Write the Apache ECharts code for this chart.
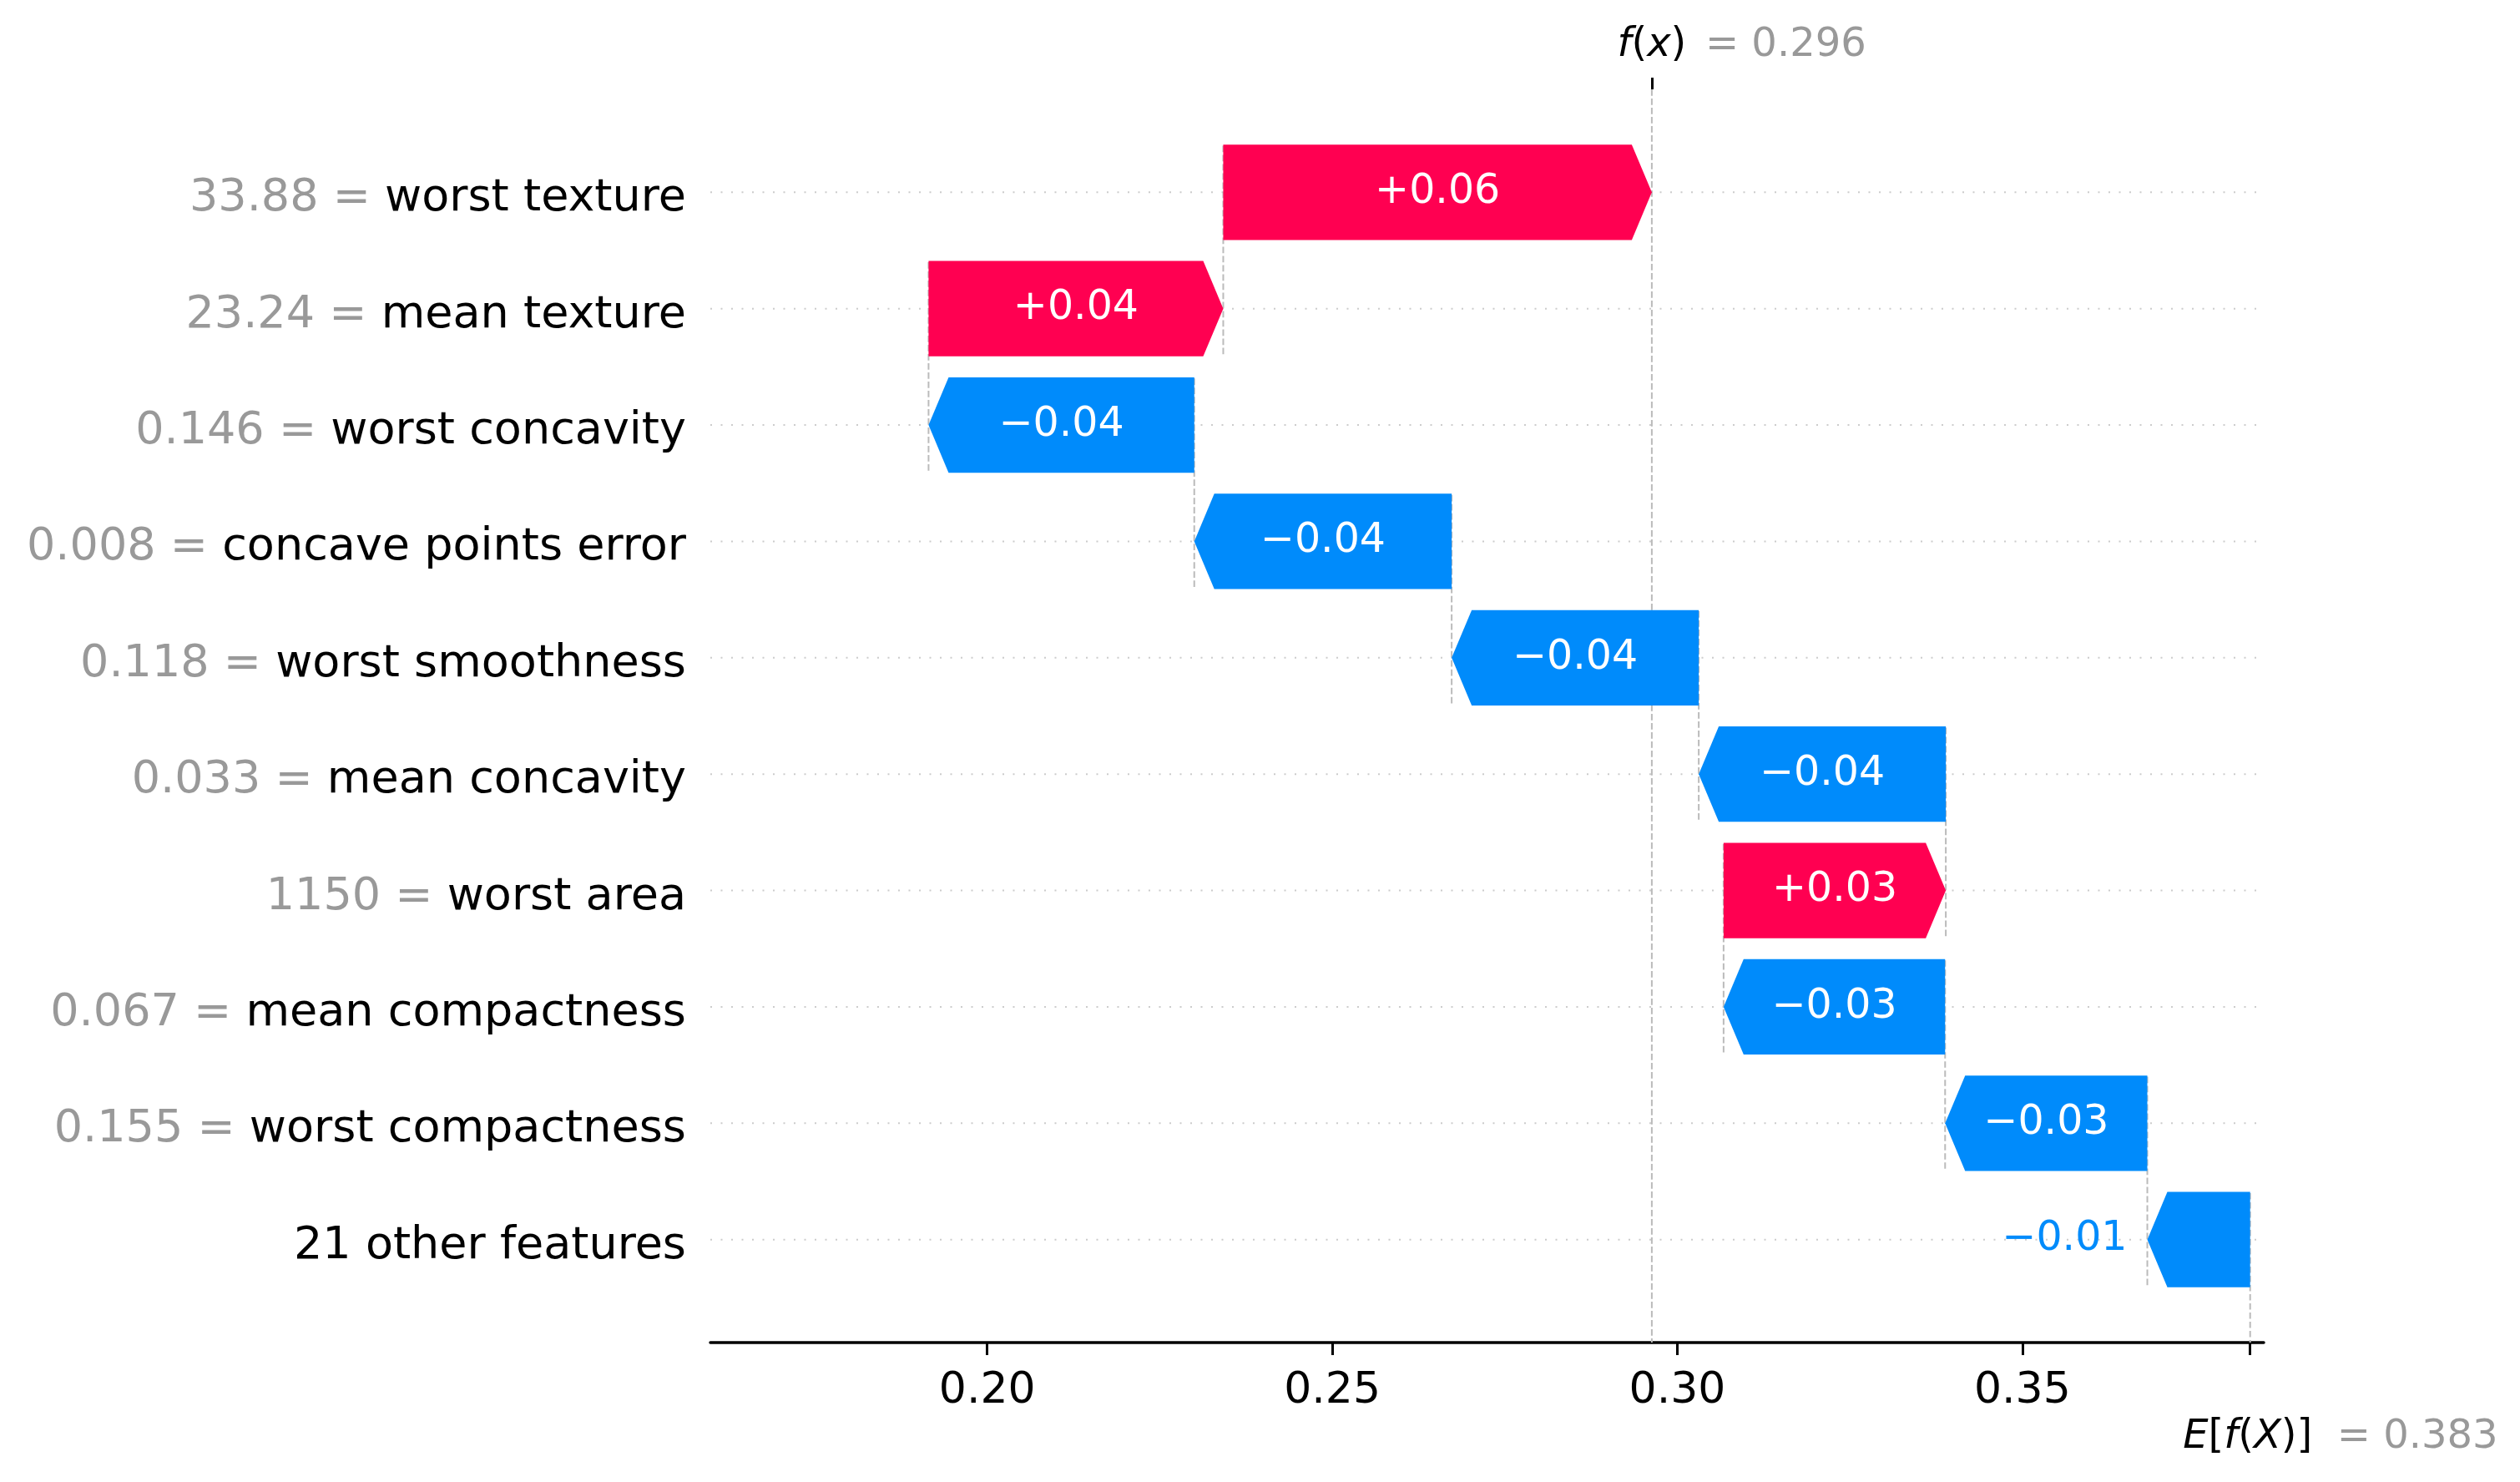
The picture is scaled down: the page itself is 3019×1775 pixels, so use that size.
<!DOCTYPE html>
<html>
<head>
<meta charset="utf-8">
<script src="https://cdn.jsdelivr.net/npm/echarts@6/dist/echarts.min.js"></script>
<style>
html,body{margin:0;padding:0;background:#fff;}
#chart{width:3019px;height:1775px;}
</style>
</head>
<body>
<div id="chart"></div>
<script>
// ---------------- data ----------------
const features = ['worst texture','mean texture','worst concavity','concave points error','worst smoothness','mean concavity','worst area','mean compactness','worst compactness','21 other features'];
const featureValues = ['33.88','23.24','0.146','0.008','0.118','0.033','1150','0.067','0.155',''];
const shapValues = [0.0621, 0.0427, -0.0385, -0.0373, -0.0358, -0.0358, 0.0322, -0.0321, -0.0293, -0.0149];
const shapLabels = ['+0.06','+0.04','\u22120.04','\u22120.04','\u22120.04','\u22120.04','+0.03','\u22120.03','\u22120.03','\u22120.01'];
const baseValue = 0.383;
const baseLabel = '0.383';
const fxLabel = '0.296';
const xTicks = [0.20, 0.25, 0.30, 0.35];

// ---------------- layout / style ----------------
const X_MIN = 0.15988, X_MAX = 0.38497;
const Y_MIN = -0.885, Y_MAX = 9.885;
const RED = '#ff0051', BLUE = '#008bfb';
const FONT = 'DejaVu Sans';
const HEAD_PX = 24;
const HALF_BAR = 0.41;

// cumulative positions (bottom row starts at base value)
const n = features.length;
const starts = new Array(n), ends = new Array(n);
let cur = baseValue;
for (let i = n - 1; i >= 0; i--) {
  starts[i] = cur;
  ends[i] = cur + shapValues[i];
  cur = ends[i];
}
const fx = ends[0];

const barData = features.map((f, i) => [starts[i], ends[i], i]);
const gridData = features.map((f, i) => [X_MIN, i]);
const connData = features.map((f, i) => [starts[i], i]);

const chart = echarts.init(document.getElementById('chart'));

const option = {
  animation: false,
  backgroundColor: '#ffffff',
  textStyle: { fontFamily: FONT },
  grid: { left: 851, right: 307, top: 107, bottom: 167, containLabel: false },
  xAxis: [
    {
      type: 'value', position: 'bottom', min: X_MIN, max: X_MAX,
      axisLine: { show: true, onZero: false, lineStyle: { color: '#000', width: 3.5 } },
      axisTick: { show: true, length: 15, lineStyle: { color: '#000', width: 3 }, customValues: xTicks.concat([baseValue]) },
      axisLabel: { show: true, customValues: xTicks, formatter: v => v.toFixed(2), fontSize: 52, color: '#000', fontFamily: FONT, margin: 32 },
      splitLine: { show: false }
    },
    {
      type: 'value', position: 'top', min: X_MIN, max: X_MAX,
      axisLine: { show: false, onZero: false },
      axisTick: { show: true, length: 14, lineStyle: { color: '#000', width: 3 }, customValues: [fx] },
      axisLabel: { show: false },
      splitLine: { show: false }
    }
  ],
  yAxis: {
    type: 'value', inverse: true, min: Y_MIN, max: Y_MAX,
    axisLine: { show: false, onZero: false }, axisTick: { show: false }, splitLine: { show: false },
    axisLabel: {
      show: true, margin: 29,
      padding: [16, 0, 0, 0],
      customValues: features.map((f, i) => i),
      formatter: function (v) {
        const i = Math.round(v);
        const fv = featureValues[i];
        return (fv ? '{v|' + fv + ' = }' : '') + '{n|' + features[i] + '}';
      },
      rich: {
        v: { color: '#999999', fontSize: 54, fontFamily: FONT },
        n: { color: '#000000', fontSize: 54, fontFamily: FONT }
      }
    }
  },
  series: [
    { // horizontal dotted row guides
      type: 'custom', z: 1, silent: true,
      data: gridData,
      renderItem: function (params, api) {
        const r = api.value(1);
        const a = api.coord([X_MIN, r]), b = api.coord([X_MAX, r]);
        return { type: 'line', shape: { x1: a[0], y1: a[1], x2: b[0], y2: b[1] },
          style: { stroke: '#cccccc', lineWidth: 2, lineDash: [2, 10.5] } };
      }
    },
    { // dashed connectors
      type: 'custom', z: 2, silent: true,
      data: connData,
      renderItem: function (params, api) {
        const x = api.value(0), r = api.value(1);
        const a = api.coord([x, r - 0.4]);
        const b = api.coord([x, Math.min(r + 1.4, Y_MAX)]);
        return { type: 'line', shape: { x1: a[0], y1: a[1], x2: b[0], y2: b[1] },
          style: { stroke: '#bbbbbb', lineWidth: 2, lineDash: [7.7, 3.3] } };
      }
    },
    { // f(x) line
      type: 'custom', z: 2, silent: true,
      data: [[fx, 0]],
      renderItem: function (params, api) {
        const x = api.value(0);
        const a = api.coord([x, Y_MIN]), b = api.coord([x, Y_MAX]);
        return { type: 'line', shape: { x1: a[0], y1: a[1], x2: b[0], y2: b[1] },
          style: { stroke: '#bbbbbb', lineWidth: 2, lineDash: [7.7, 3.3] } };
      }
    },
    { // waterfall arrows
      type: 'custom', z: 5, silent: true,
      data: barData,
      renderItem: function (params, api) {
        const i = params.dataIndex;
        const s = api.value(0), e = api.value(1), r = api.value(2);
        const p0 = api.coord([s, r]), p1 = api.coord([e, r]);
        const top = api.coord([s, r - HALF_BAR])[1], bot = api.coord([s, r + HALF_BAR])[1];
        const cy = p0[1];
        const dir = p1[0] >= p0[0] ? 1 : -1;
        const len = Math.abs(p1[0] - p0[0]);
        const head = Math.min(HEAD_PX, len);
        const color = shapValues[i] >= 0 ? RED : BLUE;
        const pts = [[p0[0], top], [p1[0] - dir * head, top], [p1[0], cy], [p1[0] - dir * head, bot], [p0[0], bot]];
        const label = shapLabels[i];
        const fs = 49;
        const estW = label.length * 0.62 * fs;
        let text;
        if (estW + 20 < len) {
          text = { type: 'text', style: { text: label, x: (p0[0] + p1[0]) / 2, y: cy, fill: '#ffffff',
            font: fs + 'px "' + FONT + '"', align: 'center', verticalAlign: 'middle' } };
        } else {
          text = { type: 'text', style: { text: label, x: p1[0] + dir * 24, y: cy, fill: color,
            font: fs + 'px "' + FONT + '"', align: dir < 0 ? 'right' : 'left', verticalAlign: 'middle' } };
        }
        return { type: 'group', children: [
          { type: 'polygon', shape: { points: pts }, style: { fill: color, stroke: null } },
          text
        ] };
      }
    },
    { // f(x) and E[f(X)] annotations
      type: 'custom', z: 6, silent: true,
      data: [[fx, 0], [baseValue, 1]],
      renderItem: function (params, api) {
        const x = api.value(0), k = api.value(1);
        const fs = 48;
        const rich = {
          i: { fontFamily: FONT, fontStyle: 'italic', fontSize: fs, fill: '#000' },
          r: { fontFamily: FONT, fontSize: fs, fill: '#000' }
        };
        if (k === 0) {
          const p = api.coord([x, Y_MIN]);
          const y = p[1] - 52;
          return { type: 'group', children: [
            { type: 'text', style: { text: '{i|f}{r|(}{i|x}{r|)}', rich: rich, x: p[0], y: y, align: 'center', verticalAlign: 'middle' } },
            { type: 'text', style: { text: '= ' + fxLabel, x: p[0] + 64, y: y, fill: '#999999', font: fs + 'px "' + FONT + '"', align: 'left', verticalAlign: 'middle' } }
          ] };
        } else {
          const p = api.coord([x, Y_MAX]);
          const y = p[1] + 114;
          return { type: 'group', children: [
            { type: 'text', style: { text: '{i|E}{r|[}{i|f}{r|(}{i|X}{r|)]}', rich: rich, x: p[0] - 3, y: y, align: 'center', verticalAlign: 'middle' } },
            { type: 'text', style: { text: '= ' + baseLabel, x: p[0] + 104, y: y, fill: '#999999', font: fs + 'px "' + FONT + '"', align: 'left', verticalAlign: 'middle' } }
          ] };
        }
      }
    }
  ]
};
chart.setOption(option);
</script>
</body>
</html>
